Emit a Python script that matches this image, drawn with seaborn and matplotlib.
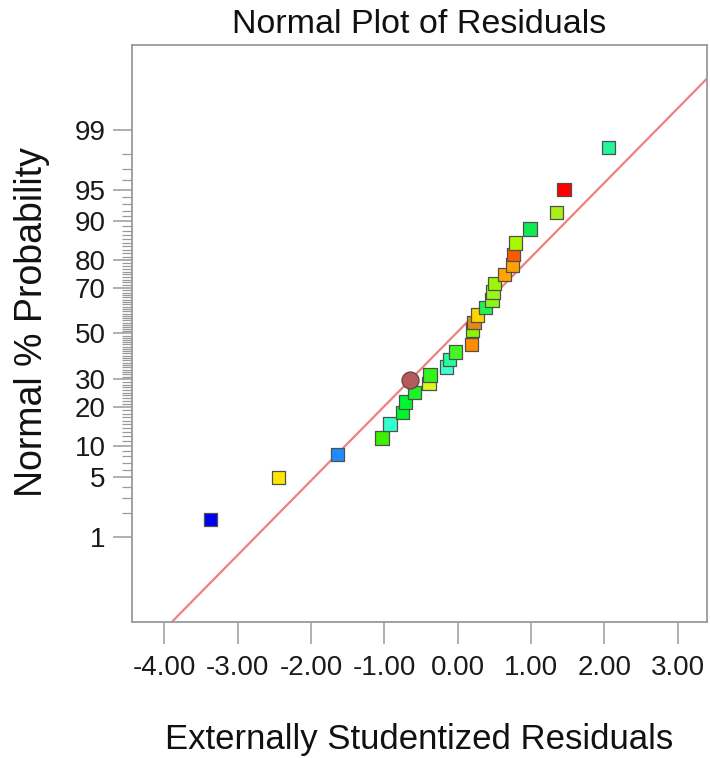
import numpy as np
import pandas as pd
import matplotlib
matplotlib.use("Agg")
import matplotlib.pyplot as plt
import seaborn as sns
from statistics import NormalDist
from matplotlib.ticker import FixedLocator, FixedFormatter, NullFormatter

# ---------------- data ----------------
residuals = [-3.37, -2.44, -1.64, -1.03, -0.92, -0.75, -0.71, -0.59, -0.39,
             -0.38, -0.15, -0.11, -0.03, 0.19, 0.20, 0.22, 0.27, 0.38, 0.47,
             0.48, 0.50, 0.64, 0.75, 0.76, 0.79, 0.99, 1.35, 1.45, 2.06]
probability = [1.67, 5.0, 8.33, 11.67, 15.0, 18.33, 21.67, 25.0, 28.33,
               31.67, 35.0, 38.33, 41.67, 45.0, 51.67, 55.0, 58.33, 61.67, 65.0,
               68.33, 71.67, 75.0, 78.33, 81.67, 85.0, 88.33, 91.67, 95.0, 98.33]
point_colors = ["#0000f0", "#ffe600", "#1e8cff", "#3cf000", "#33ffcc", "#00f52a",
                "#00f533", "#1af52a", "#ddf522", "#33f51a", "#40ffd0", "#22ff99",
                "#44f522", "#ff8c00", "#8cf500", "#e08a1a", "#ffd400", "#22f550",
                "#8cf51a", "#99f51a", "#9ef50a", "#ffa500", "#ffa200", "#ff5a00",
                "#aaf500", "#11ea55", "#aaee1a", "#ff0000", "#22f59a"]

circle_residual = [-0.65]
circle_probability = [29.6]
circle_color = ["#b45a5c"]

fit_slope = 0.851       # normal-score units per residual unit
fit_intercept = 0.02
fit_residuals = [-4.6, 3.6]

y_major = [1, 5, 10, 20, 30, 50, 70, 80, 90, 95, 99]
y_minor = [v for v in range(2, 99) if v not in y_major]
x_ticks = [-4, -3, -2, -1, 0, 1, 2, 3]
x_tick_labels = ["-4.00", "-3.00", "-2.00", "-1.00", "0.00", "1.00", "2.00", "3.00"]

title = "Normal Plot of Residuals"
xlabel = "Externally Studentized Residuals"
ylabel = "Normal % Probability"

# ---------------- probability scale ----------------
_nd = NormalDist()


def _fwd(p):
    p = np.asarray(p, dtype=float)
    q = np.clip(p / 100.0, 1e-12, 1 - 1e-12)
    out = np.full(q.shape, np.nan)
    ok = np.isfinite(q)
    out[ok] = [_nd.inv_cdf(v) for v in q[ok]]
    return out


def _inv(z):
    z = np.asarray(z, dtype=float)
    out = np.full(z.shape, np.nan)
    ok = np.isfinite(z)
    out[ok] = [100.0 * _nd.cdf(v) for v in z[ok]]
    return out


# ---------------- figure ----------------
sns.set_theme(style="white")
plt.rcParams["font.family"] = ["Liberation Sans", "DejaVu Sans"]

fig = plt.figure(figsize=(7.10, 7.58), dpi=100)
ax = fig.add_axes([132 / 710, 1 - 622 / 758, (707 - 132) / 710, (622 - 45) / 758])
ax.set_yscale("function", functions=(_fwd, _inv))

fit_prob = [100.0 * _nd.cdf(fit_slope * x + fit_intercept) for x in fit_residuals]
sns.lineplot(x=fit_residuals, y=fit_prob, ax=ax, color="#ee8080", linewidth=1.6,
             zorder=1, legend=False)

df = pd.DataFrame({"res": residuals, "prob": probability,
                   "id": [str(i) for i in range(len(residuals))]})
sns.scatterplot(data=df, x="res", y="prob", hue="id", palette=point_colors,
                marker="s", s=95, edgecolor="#505050", linewidth=0.9,
                legend=False, ax=ax, zorder=3)
dfc = pd.DataFrame({"res": circle_residual, "prob": circle_probability, "id": ["c"]})
sns.scatterplot(data=dfc, x="res", y="prob", hue="id", palette=circle_color,
                marker="o", s=150, edgecolor="#6a4040", linewidth=0.9,
                legend=False, ax=ax, zorder=4)

ax.set_xlim(-4.44, 3.40)
ax.set_ylim(_inv(-3.297), _inv(3.297))

ax.xaxis.set_major_locator(FixedLocator(x_ticks))
ax.xaxis.set_major_formatter(FixedFormatter(x_tick_labels))
ax.yaxis.set_major_locator(FixedLocator(y_major))
ax.yaxis.set_major_formatter(FixedFormatter([str(v) for v in y_major]))
ax.yaxis.set_minor_locator(FixedLocator(y_minor))
ax.yaxis.set_minor_formatter(NullFormatter())

spine_c = "#9a9a9a"
for sp in ax.spines.values():
    sp.set_color(spine_c)
    sp.set_linewidth(1.3)
    sp.set_visible(True)

ax.tick_params(axis="x", which="major", direction="out", length=16, width=1.1,
               color=spine_c, labelsize=20, pad=8, bottom=True)
ax.tick_params(axis="y", which="major", direction="out", length=14, width=1.1,
               color=spine_c, labelsize=20, pad=5, left=True)
ax.tick_params(axis="y", which="minor", direction="out", length=7, width=0.9,
               color=spine_c, left=True)
ax.tick_params(colors="#1a1a1a", which="major", labelcolor="#1a1a1a")
ax.tick_params(axis="both", which="both", color=spine_c)

ax.set_title(title, fontsize=24.5, color="#111111", y=1.035, va="center", pad=0)
ax.set_xlabel(xlabel, fontsize=25, color="#111111", va="center")
ax.xaxis.set_label_coords(0.5, (622 - 740) / 577)
ax.set_ylabel(ylabel, fontsize=27, color="#111111", va="center")
ax.yaxis.set_label_coords((32 - 132) / 575, (622 - 322) / 577)

fig.savefig("out.png", dpi=100)
